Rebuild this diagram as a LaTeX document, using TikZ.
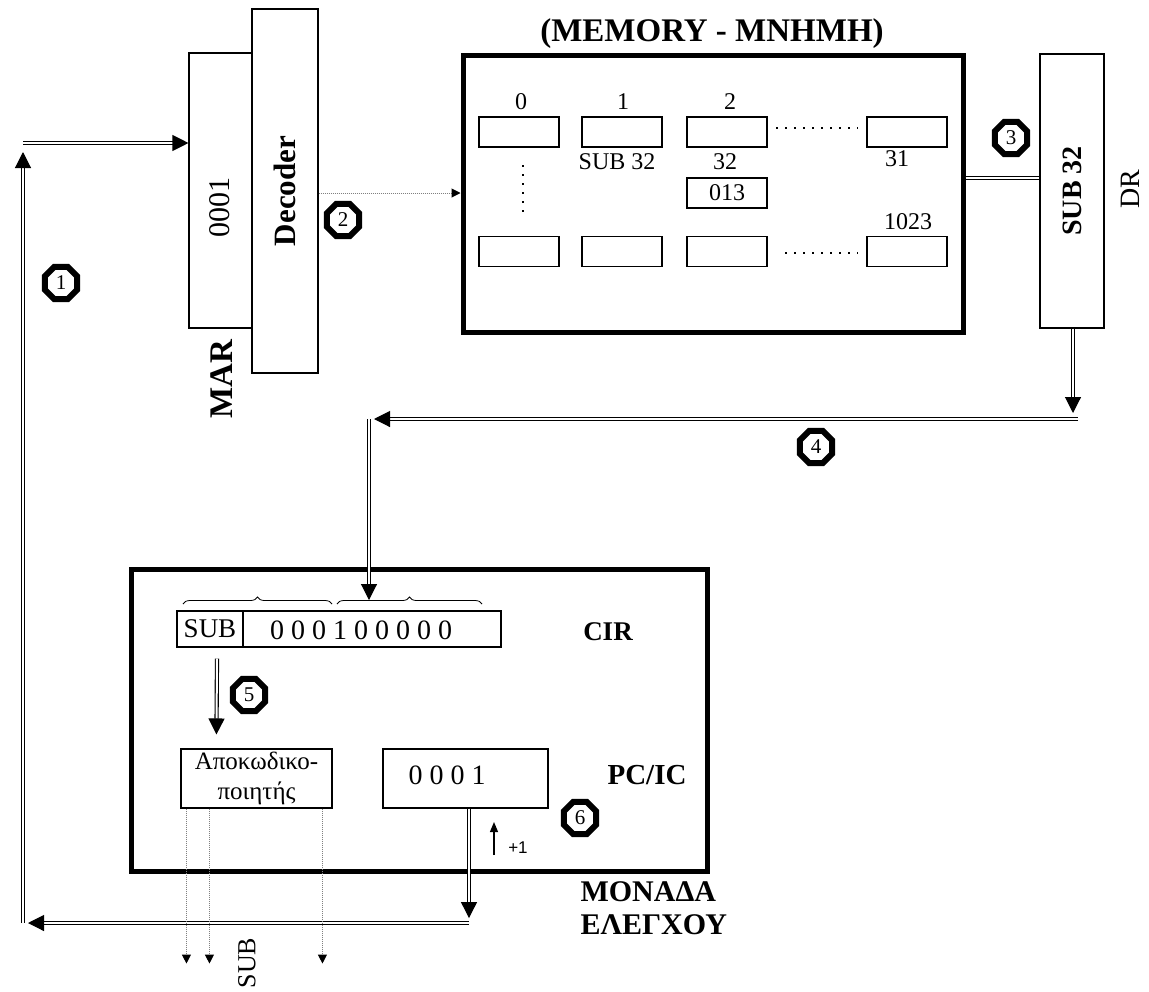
\documentclass[tikz,border=0pt]{standalone}
\usepackage{fontspec}
\setmainfont{Liberation Serif}
\newfontfamily\plusfont{Liberation Sans}
\usetikzlibrary{arrows.meta, shapes.geometric, positioning, decorations.pathreplacing}

\begin{document}
\begin{tikzpicture}[
    x=1pt, y=1pt,
    every node/.style={font=\fontsize{24}{27}\selectfont},
    reg/.style={draw, line width=1.1pt, inner sep=0pt},
    unit/.style={draw, line width=5pt, inner sep=0pt},
    cell/.style={reg, minimum width=80pt, minimum height=30pt},
    bus/.style={double, double distance=2pt, line width=1.1pt,
        -{Triangle[length=16pt,width=16pt]}},
    busline/.style={double, double distance=2pt, line width=1.1pt},
    sig/.style={densely dotted, line width=1pt, gray,
        -{Triangle[length=9pt,width=9pt,color=black]}},
    dots/.style={line width=1.6pt, dash pattern=on 1.6pt off 7.4pt},
    num/.style={regular polygon, regular polygon sides=8, draw,
        line width=6pt, minimum size=35pt, inner sep=0pt,
        font=\fontsize{21}{21}\selectfont},
    bold/.style={font=\fontsize{#1}{#1}\selectfont\bfseries},
    brc/.style={decorate, decoration={brace, amplitude=7pt}, line width=0.8pt}
]
\useasboundingbox (0,0) rectangle (1149,-991);

% MAR and decoder
\node (mar) [reg, minimum width=63pt, minimum height=275pt] at (220.5,-190.5) {};
\node (dec) [reg, minimum width=66pt, minimum height=364pt, bold=31] at (285,-191) {\rotatebox{90}{Decoder}};
\node (marval) [font=\fontsize{30}{30}\selectfont] at (220,-207) {\rotatebox{90}{0001}};
\node (marlbl) [bold=33] at (222,-379) {\rotatebox{90}{MAR}};

% memory
\node (memtitle) [bold=33] at (712,-34) {(MEMORY - ΜΝΗΜΗ)};
\node (mem) [unit, minimum width=500pt, minimum height=277pt] at (713,-193.5) {};

\node (c0)  [cell] at (519,-132) {};
\node (c1)  [cell] at (622,-132) {};
\node (c2)  [cell] at (727,-132) {};
\node (c31) [cell] at (907,-132) {};
\node (c32) [cell] at (727,-193) {013};
\node (d0)  [cell] at (519,-251.5) {};
\node (d1)  [cell] at (622,-251.5) {};
\node (d2)  [cell] at (727,-251.5) {};
\node (d3)  [cell] at (907,-251.5) {};

\node (l0)  at (521,-102) {0};
\node (l1)  at (623,-102) {1};
\node (l2)  at (730,-102) {2};
\node (v1)  at (617,-162) {SUB 32};
\node (l32) at (725,-162) {32};
\node (l31) at (897,-159) {31};
\node (l1023) at (908,-222) {1023};

\draw[dots] (776,-128) -- (858,-128);
\draw[dots] (785,-253) -- (858,-253);
\draw[dots] (523,-165) -- (523,-212);

% data register
\node (dr) [reg, minimum width=64pt, minimum height=274pt, bold=28] at (1072,-191) {\rotatebox{90}{SUB 32}};
\node (drlbl) [font=\fontsize{28}{28}\selectfont] at (1130,-189) {\rotatebox{90}{DR}};

% control unit
\node (cu) [unit, minimum width=576pt, minimum height=302pt] at (419,-720) {};
\node (cir) [reg, minimum width=324pt, minimum height=36pt] at (339,-629) {};
\node (opc) [reg, minimum width=66pt, minimum height=36pt, anchor=west, font=\fontsize{27}{27}\selectfont] at (cir.west) {SUB};
\node (bits) [font=\fontsize{28}{28}\selectfont] at (361,-630) {0 0 0 1 0 0 0 0 0};
\node (cirlbl) [bold=27] at (608,-632) {CIR};
\draw[brc] (183,-604) -- (332,-604);
\draw[brc] (337,-604) -- (482,-604);

\node (gdec) [reg, minimum width=151pt, minimum height=59pt, align=center, font=\fontsize{25}{30}\selectfont] at (256.5,-778.5) {Αποκωδικο-\\ποιητής};
\node (pc) [reg, minimum width=165pt, minimum height=59pt] at (465.5,-778.5) {};
\node (pcval) [font=\fontsize{28}{28}\selectfont] at (447,-775) {0 0 0 1};
\node (pclbl) [bold=29] at (647,-775) {PC/IC};
\node (culbl) [font=\fontsize{30}{33}\selectfont\bfseries, align=left, anchor=west] at (577,-908) {ΜΟΝΑΔΑ\\ΕΛΕΓΧΟΥ};

% step numbers
\node (n1) [num] at (61,-283) {1};
\node (n2) [num] at (343,-220) {2};
\node (n3) [num] at (1011,-138) {3};
\node (n4) [num] at (816,-447) {4};
\node (n5) [num] at (249,-695) {5};
\node (n6) [num] at (580,-818) {6};

% buses
\coordinate (tl) at (23,-143);
\coordinate (lc) at (23,-923);
\coordinate (ret) at (469,-923);
\coordinate (k4r) at (1078,-419);
\coordinate (k4l) at (369,-419);

\draw[bus] (tl) -- (mar.west |- tl);
\draw[sig] (dec.east |- 0,-193) -- (mem.west |- 0,-193);
\draw[busline] (mem.east |- 0,-178) -- (dr.west |- 0,-178);
\draw[bus] ([xshift=1pt]dr.south) -- ([xshift=1pt]dr.south |- 0,-413);
\draw[bus] (k4r) -- ([xshift=5pt]k4l);
\draw[bus] (k4l) -- (k4l |- 0,-600);
\draw[bus] ([shift={(7,-11)}]opc.south) -- ([shift={(36,14)}]gdec.north west);
\draw[bus] ([xshift=3.5pt]pc.south) -- ++(0,-109.5);
\draw[bus] (ret) -- ([xshift=5pt]lc);
\draw[bus] (lc) -- (23,-152);

\draw[sig] ([xshift=6pt]gdec.south west) -- ++(0,-155);
\draw[sig] ([xshift=29pt]gdec.south west) -- ++(0,-155);
\draw[sig] ([xshift=142pt]gdec.south west) -- ++(0,-155);
\node (subout) [font=\fontsize{26}{26}\selectfont] at (247,-963) {\rotatebox{90}{SUB}};

\draw[-{Triangle[length=10pt,width=8pt]}, line width=1.2pt] (494,-855) -- (494,-822);
\node (inc) [font=\plusfont\fontsize{17}{17}\selectfont] at (518,-848) {+1};

\end{tikzpicture}
\end{document}
